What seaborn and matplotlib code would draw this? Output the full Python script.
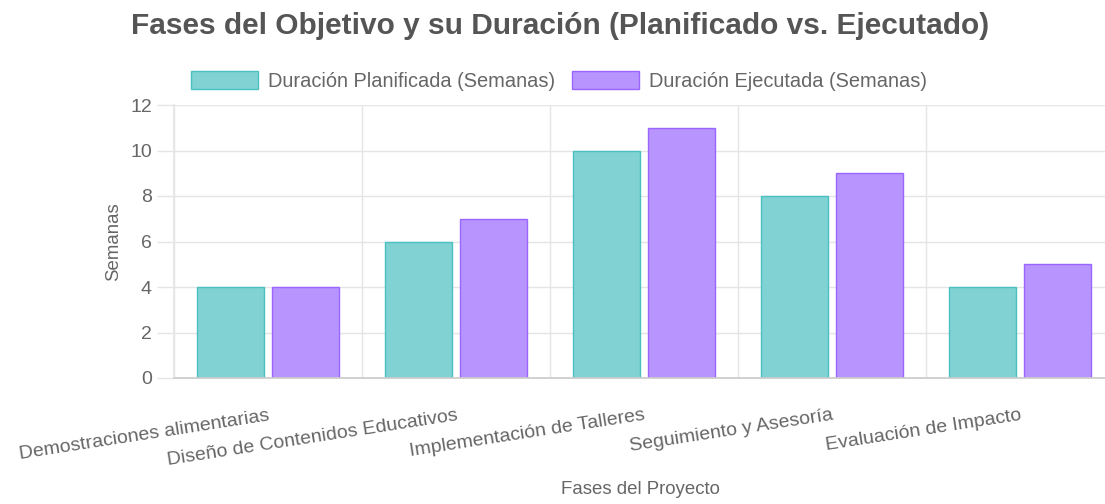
import matplotlib
matplotlib.use("Agg")
import matplotlib.pyplot as plt
import seaborn as sns
import pandas as pd
from matplotlib.patches import Patch

fases = ["Demostraciones alimentarias", "Diseño de Contenidos Educativos",
         "Implementación de Talleres", "Seguimiento y Asesoría", "Evaluación de Impacto"]
planificada = [4, 6, 10, 8, 4]
ejecutada = [4, 7, 11, 9, 5]
series = ["Duración Planificada (Semanas)", "Duración Ejecutada (Semanas)"]
y_ticks = [0, 2, 4, 6, 8, 10, 12]

sns.set_theme(style="white")
plt.rcParams['font.family'] = ['Liberation Sans', 'DejaVu Sans']

df = pd.DataFrame({
    "fase": fases * 2,
    "serie": [series[0]] * len(fases) + [series[1]] * len(fases),
    "valor": planificada + ejecutada,
})

fill = {series[0]: (129/255, 211/255, 211/255), series[1]: (184/255, 148/255, 255/255)}
edge = {series[0]: (75/255, 192/255, 192/255), series[1]: (153/255, 102/255, 255/255)}

fig = plt.figure(figsize=(11.05, 5.04), dpi=100)
ax = fig.add_axes([174/1105, 126/504, 940/1105, 273/504])

sns.barplot(data=df, x="fase", y="valor", hue="serie", palette=fill, width=0.8, gap=0.1,
            ax=ax, legend=False, saturation=1)
for i, cont in enumerate(ax.containers):
    for p in cont:
        p.set_edgecolor(edge[series[i]])
        p.set_linewidth(1)

ax.set_xlim(-0.5, len(fases) - 0.5)
ax.set_ylim(0, 12)
ax.set_yticks(y_ticks)
ax.set_yticklabels([str(t) for t in y_ticks], fontsize=14, color="#666666")

ax.set_xticks(range(len(fases)))
ax.set_xticklabels(fases, rotation=8.8, ha="right", va="top", rotation_mode="anchor",
                   fontsize=14, color="#666666")
ax.tick_params(axis="x", which="major", length=0, pad=21)
ax.set_xticks([i - 0.5 for i in range(len(fases) + 1)], minor=True)
ax.tick_params(axis="x", which="minor", length=12, color="#e5e5e5", width=1)
ax.tick_params(axis="y", which="major", length=12, color="#e5e5e5", width=1, pad=4, left=True)
ax.grid(True, axis="y", which="major", color="#e5e5e5", linewidth=1)
ax.grid(True, axis="x", which="minor", color="#e5e5e5", linewidth=1)
ax.grid(False, axis="x", which="major")
ax.set_axisbelow(True)
for s in ["top", "right"]:
    ax.spines[s].set_visible(False)
ax.spines["left"].set_color("#e5e5e5")
ax.spines["bottom"].set_color("#cccccc")

ax.set_ylabel("Semanas", fontsize=13.4, color="#666666", labelpad=6)
ax.set_xlabel("")
fig.text(640/1105, 1 - 490/504, "Fases del Proyecto", ha="center", va="center",
         fontsize=13.4, color="#666666")

fig.text(560/1105, 1 - 26/504, "Fases del Objetivo y su Duración (Planificado vs. Ejecutado)",
         ha="center", va="center", fontsize=21.5, fontweight="bold", color="#555555")

handles = [Patch(facecolor=fill[s], edgecolor=edge[s], linewidth=1) for s in series]
fig.legend(handles, series, loc="center", bbox_to_anchor=(559/1105, 1 - 81/504), ncol=2,
           frameon=False, fontsize=14.4, labelcolor="#666666", handlelength=3.35,
           handleheight=1.0, handletextpad=0.5, columnspacing=0.85)

fig.savefig("out.png", dpi=100)
